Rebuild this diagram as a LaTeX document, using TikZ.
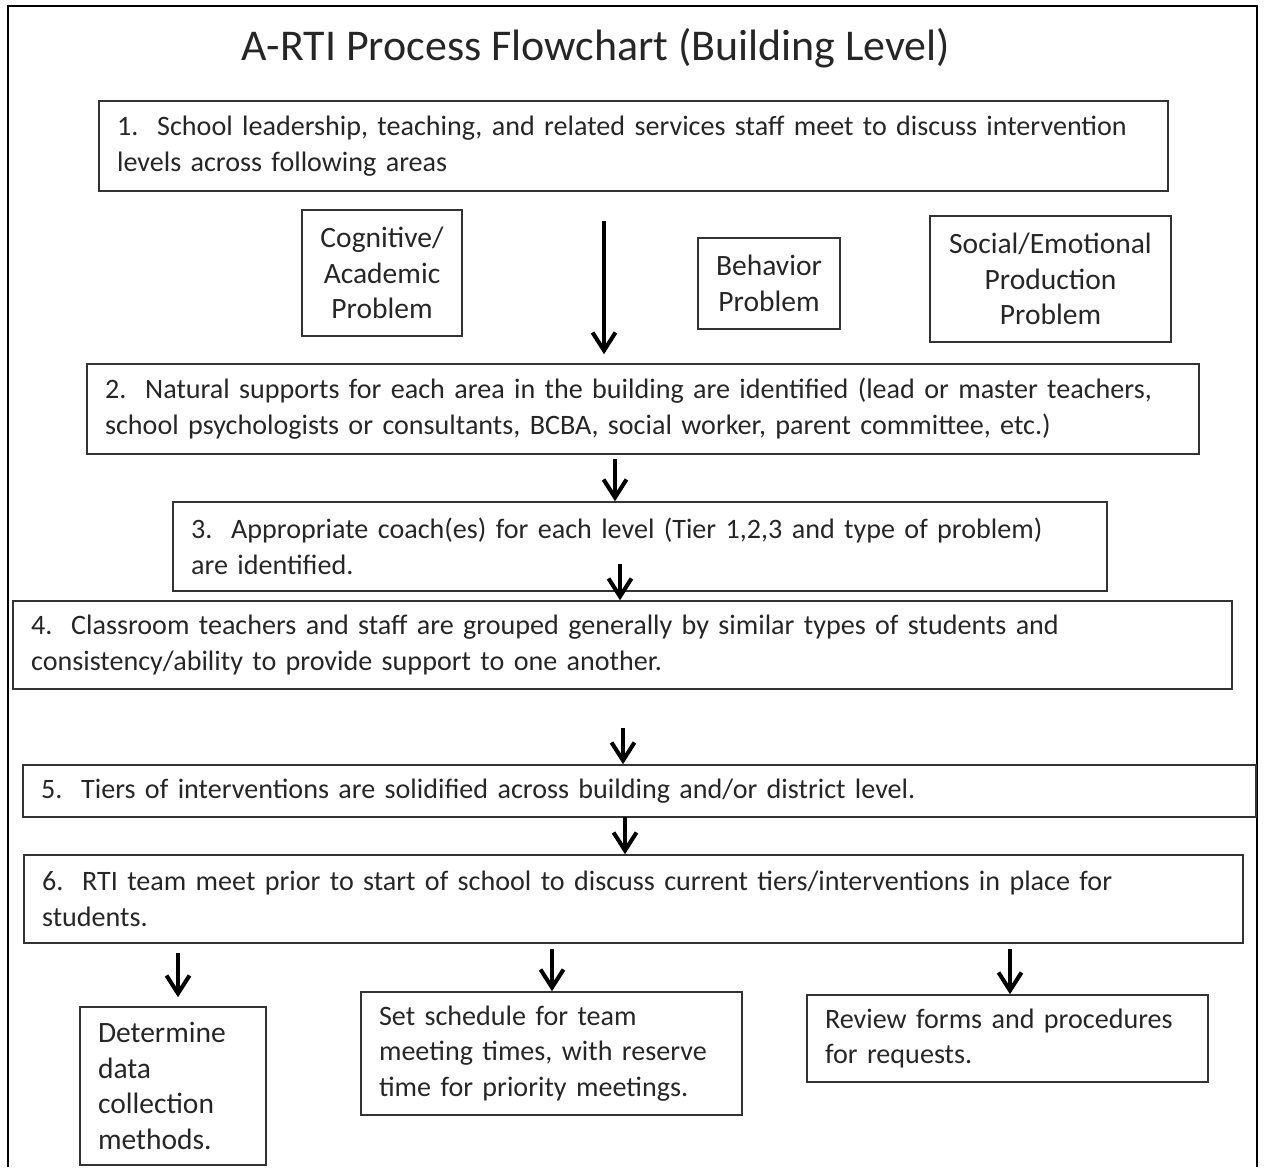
\documentclass[tikz,border=0pt]{standalone}
\usepackage{fontspec}
\setmainfont{Carlito}
\usetikzlibrary{arrows.meta}

\begin{document}
\begin{tikzpicture}[x=0.02cm,y=-0.02cm,
    stepbox/.style={draw=black!80,line width=0.9pt,align=left,inner xsep=0.36cm,inner ysep=0pt,
      text=black!85,font=\fontsize{16pt}{20.4pt}\selectfont},
    probbox/.style={draw=black!80,line width=0.9pt,align=center,inner sep=0pt,
      text=black!85,font=\fontsize{16.8pt}{20.4pt}\selectfont},
    flow/.style={-{Straight Barb[length=0.36cm,width=0.46cm]},line width=2.3pt}]

      \useasboundingbox (0,0) rectangle (1264,1167);
      \draw[line width=1.3pt] (8,1167) -- (8,6) -- (1257,6) -- (1257,1167);

      \path (596,48) node [text=black!85,font=\fontsize{25pt}{30pt}\selectfont](title){A-RTI Process Flowchart (Building Level)};

      \path (633.5,146) node [stepbox,text width=20.66cm,minimum height=1.8cm](step_1){1.\ \ School leadership, teaching, and related services staff meet to discuss intervention\\levels across following areas};
      \path (382,273) node [probbox,minimum width=3.2cm,minimum height=2.52cm](prob_cog){Cognitive/\\Academic\\Problem};
      \path (769,283.5) node [probbox,minimum width=2.84cm,minimum height=1.82cm](prob_beh){Behavior\\Problem};
      \path (1050.5,279) node [probbox,minimum width=4.82cm,minimum height=2.52cm](prob_soc){Social/Emotional\\Production\\Problem};
      \path (643,409) node [stepbox,text width=21.52cm,minimum height=1.8cm](step_2){2.\ \ Natural supports for each area in the building are identified (lead or master teachers,\\school psychologists or consultants, BCBA, social worker, parent committee, etc.)};
      \path (640,546.5) node [stepbox,text width=17.96cm,minimum height=1.78cm](step_3){3.\ \ Appropriate coach(es) for each level (Tier 1,2,3 and type of problem)\\are identified.};
      \path (622.5,645) node [stepbox,text width=23.66cm,minimum height=1.76cm](step_4){4.\ \ Classroom teachers and staff are grouped generally by similar types of students and\\consistency/ability to provide support to one another.};
      \path (639.5,791) node [stepbox,text width=23.94cm,minimum height=1.04cm](step_5){5.\ \ Tiers of interventions are solidified across building and/or district level.};
      \path (633.5,899) node [stepbox,text width=23.66cm,minimum height=1.76cm](step_6){6.\ \ RTI team meet prior to start of school to discuss current tiers/interventions in place for\\students.};
      \path (173,1086) node [stepbox,text width=3cm,minimum height=3.16cm,font=\fontsize{16.8pt}{20.4pt}\selectfont](task_data){Determine\\data\\collection\\methods.};
      \path (551.5,1053.5) node [stepbox,text width=6.9cm,minimum height=2.46cm](task_sched){Set schedule for team\\meeting times, with reserve\\time for priority meetings.};
      \path (1007.5,1038.5) node [stepbox,text width=7.3cm,minimum height=1.74cm](task_forms){Review forms and procedures\\for requests.};

      \coordinate (a_1) at (604,221);
      \coordinate (a_2) at (615,459);
      \coordinate (a_3) at (620,564);
      \coordinate (a_4) at (623,728);
      \coordinate (a_5) at (625,817);
      \coordinate (b_1) at (178,953);
      \coordinate (b_2) at (552,949);
      \coordinate (b_3) at (1010,949);
      \draw[flow,shorten >=0.18cm] (a_1) -- (a_1 |- step_2.north);
      \draw[flow] (a_2) -- (a_2 |- step_3.north);
      \draw[flow] (a_3) -- (a_3 |- step_4.north);
      \draw[flow] (a_4) -- (a_4 |- step_5.north);
      \draw[flow] (a_5) -- (a_5 |- step_6.north);
      \draw[flow,shorten >=0.18cm] (b_1) -- (b_1 |- task_data.north);
      \draw[flow] (b_2) -- (b_2 |- task_sched.north);
      \draw[flow] (b_3) -- (b_3 |- task_forms.north);

    \end{tikzpicture}
\end{document}
